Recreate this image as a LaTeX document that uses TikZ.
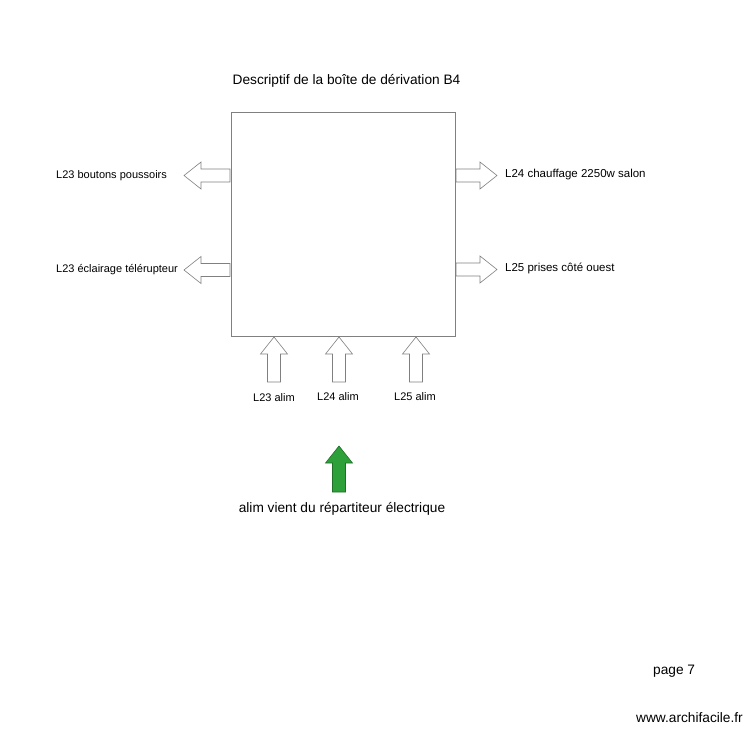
\documentclass[tikz,border=0pt]{standalone}
\usepackage{fontspec}
\setmainfont{Liberation Sans}
\usetikzlibrary{positioning}
\definecolor{boxgray}{RGB}{128,128,128}
\definecolor{alimgreen}{RGB}{46,160,58}
\definecolor{alimdark}{RGB}{30,110,40}
\tikzset{
	pics/blockarrow/.style={code={
		\draw[pic actions] (0,-6.5) -- (#1-17,-6.5) -- (#1-17,-13.5) -- (#1,0) -- (#1-17,13.5) -- (#1-17,6.5) -- (0,6.5) -- cycle;}},
	outarrow/.style={draw=boxgray, fill=white, line width=0.6pt},
	feedarrow/.style={draw=alimdark, fill=alimgreen, line width=0.6pt},
	lbl/.style={inner sep=0pt, font=\fontsize{11.5}{13}\selectfont},
	lbll/.style={inner sep=0pt, font=\fontsize{11}{13}\selectfont},
	ttl/.style={inner sep=0pt, font=\fontsize{13.7}{16}\selectfont}
}

\begin{document}
\begin{tikzpicture}[x=1pt, y=-1pt]
			\useasboundingbox[fill=white] (0,0) rectangle (750,750);
			
			% boite B4
			\node[draw=boxgray, line width=0.6pt, minimum width=224pt, minimum height=224pt, inner sep=0pt] (box) at (343,224) {};
			\node[ttl, anchor=base] (titre) at (346.5,84) {Descriptif de la boîte de dérivation B4};
			
			% departs gauche
			\pic[outarrow, rotate=180] at (230,175.5) {blockarrow=46};
			\pic[outarrow, rotate=180] at (230,270) {blockarrow=46};
			\node[lbll, anchor=base west] (boutons) at (56,178) {L23 boutons poussoirs};
			\node[lbll, anchor=base west] (eclairage) at (56,272) {L23 éclairage télérupteur};
			
			% departs droite
			\pic[outarrow] at (456,175.5) {blockarrow=41};
			\pic[outarrow] at (456,269.5) {blockarrow=41};
			\node[lbl, anchor=base west] (chauffage) at (505,177.5) {L24 chauffage 2250w salon};
			\node[lbl, anchor=base west] (prises) at (505,271.5) {L25 prises côté ouest};
			
			% alims
			\pic[outarrow, rotate=90] at (274,382) {blockarrow=45};
			\pic[outarrow, rotate=90] at (339,382) {blockarrow=45};
			\pic[outarrow, rotate=90] at (416,382) {blockarrow=45};
			\node[lbll, anchor=base] (alima) at (274,401.5) {L23 alim};
			\node[lbll, anchor=base] (alimb) at (338,400.5) {L24 alim};
			\node[lbll, anchor=base] (alimc) at (415,400.5) {L25 alim};
			
			% arrivee
			\pic[feedarrow, rotate=90] at (339,492) {blockarrow=46};
			\node[ttl, anchor=base] (repartiteur) at (342,512) {alim vient du répartiteur électrique};
			
			\node[ttl, anchor=base west] (page) at (653,674) {page 7};
			\node[ttl, anchor=base west] (site) at (636,722.5) {www.archifacile.fr};
		\end{tikzpicture}
\end{document}
